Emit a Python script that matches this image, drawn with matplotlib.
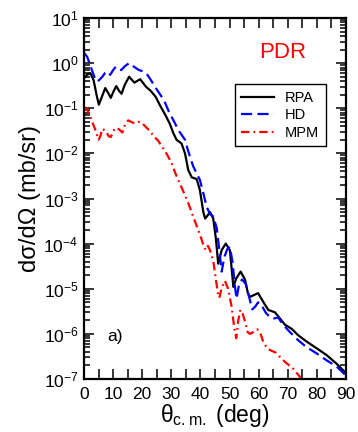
import numpy as np
import matplotlib
matplotlib.use("Agg")
import matplotlib.pyplot as plt
from matplotlib.ticker import FixedLocator, LogLocator, NullFormatter, MultipleLocator

plt.rcParams['font.family'] = ['Liberation Sans', 'DejaVu Sans']
plt.rcParams['mathtext.fontset'] = 'custom'
plt.rcParams['mathtext.rm'] = 'Liberation Sans'
plt.rcParams['mathtext.it'] = 'Liberation Sans:italic'
plt.rcParams['mathtext.bf'] = 'Liberation Sans:bold'

# ---- data ----
theta_rpa = [0, 1, 2.2, 3.3, 4.3, 5.1, 6.0, 7.3, 8.3, 9.2, 10.2, 11.1, 12.1, 12.9, 14.0, 15.5,
             17.3, 19.3, 21.3, 23.0, 24.6, 26.3, 28.0, 29.5, 30.7, 31.8, 33.5, 34.7, 35.8, 37.0,
             38.7, 39.8, 41.0, 41.6, 42.2, 43.3, 44.4, 45.3, 46.1, 47.3, 48.7, 50.1, 50.8, 51.3,
             52.3, 53.8, 55.3, 56.3, 57.0, 58.3, 59.8, 61.6, 63.3, 65.6, 67.3, 69.0, 71.3, 73.6,
             76.4, 79.9, 83.3, 86.7, 90.0]
rpa = [4.6e-1, 5.5e-1, 6.0e-1, 4.2e-1, 2.0e-1, 1.2e-1, 1.7e-1, 2.8e-1, 2.2e-1, 1.7e-1, 2.4e-1, 3.1e-1, 2.4e-1, 2.1e-1, 3.3e-1, 5.0e-1,
       3.7e-1, 4.4e-1, 3.0e-1, 2.4e-1, 1.8e-1, 1.1e-1, 7.0e-2, 4.5e-2, 2.8e-2, 2.0e-2, 1.66e-2, 1.0e-2, 4.3e-3, 2.95e-3,
       2.7e-3, 1.55e-3, 5.0e-4, 3.6e-4, 4.0e-4, 5.0e-4, 3.6e-4, 1.3e-4, 3.6e-5, 7.2e-5, 1.0e-4, 7.2e-5, 2.5e-5, 1.1e-5,
       1.7e-5, 2.4e-5, 1.6e-5, 8.0e-6, 6.6e-6, 7.2e-6, 8.0e-6, 5.1e-6, 3.4e-6, 3.0e-6, 2.2e-6, 1.6e-6, 1.3e-6, 9.3e-7,
       6.8e-7, 4.8e-7, 3.4e-7, 2.2e-7, 1.35e-7]

theta_hd = [0, 1.1, 2.0, 2.9, 3.8, 4.6, 5.5, 6.3, 7.2, 8.0, 9.0, 10.0, 10.9, 12.0, 12.8, 14.0, 15.5,
            17.2, 18.9, 20.6, 21.8, 22.9, 25.2, 27.5, 29.2, 31.0, 32.4, 33.5, 34.7, 35.5, 36.4, 37.5,
            38.7, 39.8, 41.0, 42.1, 43.3, 44.4, 45.6, 46.5, 47.3, 48.2, 49.2, 50.1, 51.0, 51.8, 52.4,
            53.3, 54.3, 55.5, 56.5, 57.8, 58.8, 59.8, 61.0, 62.5, 64.0, 65.3, 66.7, 68.4, 70.7, 73.6,
            76.4, 79.9, 83.3, 86.7, 90.0]
hd = [1.7, 1.38, 0.95, 0.65, 0.45, 0.39, 0.44, 0.5, 0.6, 0.65, 0.55, 0.7, 0.83, 0.75, 0.7, 0.85, 1.0,
      0.83, 0.7, 0.65, 0.55, 0.43, 0.25, 0.15, 8.3e-2, 5.0e-2, 3.3e-2, 2.6e-2, 2.0e-2, 1.3e-2, 8.5e-3, 5.2e-3,
      3.6e-3, 2.6e-3, 1.3e-3, 6.6e-4, 4.5e-4, 4.0e-4, 2.2e-4, 7.0e-5, 2.4e-5, 5.0e-5, 7.5e-5, 8.5e-5, 4.0e-5, 1.2e-5, 6.0e-6,
      1.3e-5, 1.6e-5, 1.3e-5, 7.5e-6, 3.5e-6, 4.0e-6, 5.0e-6, 4.3e-6, 2.9e-6, 2.3e-6, 2.2e-6, 2.3e-6, 1.6e-6, 1.1e-6, 7.2e-7,
      5.1e-7, 3.7e-7, 2.6e-7, 1.9e-7, 1.2e-7]

theta_mpm = [0, 1, 2, 3, 4, 5, 5.6, 6.3, 7.3, 8.5, 9.2, 10.3, 11.4, 12.5, 13.2, 14.2, 15.2, 16.2,
             17.5, 18.8, 19.8, 21, 22.5, 24, 25.5, 27, 28.5, 30, 31.5, 33, 34.5, 36, 37.5, 39, 40.3,
             41.2, 41.9, 42.6, 43.3, 44.4, 45.2, 46.1, 46.5, 47.3, 48.4, 49.5, 50.7, 51.6, 52.3, 53,
             53.7, 54.5, 55.4, 56.2, 57, 58.2, 59.5, 60.5, 61.6, 63, 64.5, 66, 67.5, 69, 70.5, 72,
             73.5, 75]
mpm = [1.07e-1, 9.5e-2, 7.0e-2, 4.7e-2, 3.2e-2, 2.0e-2, 2.4e-2, 3.5e-2, 3.2e-2, 2.4e-2, 2.3e-2, 3.3e-2, 3.7e-2, 3.2e-2, 2.9e-2, 4.5e-2, 5.4e-2, 5.0e-2,
       4.6e-2, 5.0e-2, 4.8e-2, 4.0e-2, 3.2e-2, 2.4e-2, 1.9e-2, 1.35e-2, 9.5e-3, 6.3e-3, 3.5e-3, 2.1e-3, 1.26e-3, 7.4e-4, 4.0e-4, 2.2e-4, 1.3e-4,
       8.3e-5, 7.2e-5, 8.9e-5, 7.1e-5, 4.2e-5, 1.8e-5, 7.1e-6, 6.3e-6, 1.05e-5, 1.5e-5, 1.0e-5, 4.0e-6, 1.4e-6, 8.0e-7, 2.0e-6,
       3.4e-6, 2.8e-6, 1.8e-6, 1.1e-6, 1.0e-6, 1.1e-6, 1.26e-6, 1.07e-6, 6.6e-7, 4.7e-7, 4.2e-7, 3.8e-7, 3.0e-7, 2.4e-7, 2.0e-7, 1.66e-7,
       1.26e-7, 9.5e-8]

series_labels = ["RPA", "HD", "MPM"]
y_exponents = [-7, -6, -5, -4, -3, -2, -1, 0, 1]
x_ticklabels = [0, 10, 20, 30, 40, 50, 60, 70, 80, 90]

# ---- figure ----
fig = plt.figure(figsize=(3.58, 4.32), dpi=100)
ax = fig.add_axes([0.2346, 0.1227, 0.7319, 0.8356])

ax.plot(theta_rpa, rpa, color='black', lw=1.6, label=series_labels[0])
ax.plot(theta_hd, hd, color='#0000ff', lw=1.6, dashes=(5.0, 2.4), label=series_labels[1])
ax.plot(theta_mpm, mpm, color='#ff0000', lw=1.6, dashes=(3.8, 1.8, 0.8, 1.8), label=series_labels[2])

ax.set_yscale('log')
ax.set_xlim(0, 90)
ax.set_ylim(1e-7, 1e1)

ax.set_yticks([10.0 ** e for e in y_exponents])
ax.set_yticklabels([r"$10^{%d}$" % e for e in y_exponents])
ax.yaxis.set_minor_locator(LogLocator(base=10, subs=np.arange(2, 10), numticks=20))
ax.yaxis.set_minor_formatter(NullFormatter())

ax.set_xticks(x_ticklabels)
ax.set_xticklabels([str(v) for v in x_ticklabels])
ax.xaxis.set_minor_locator(MultipleLocator(5))

ax.tick_params(which='both', direction='in', top=True, right=True, width=1.1, labelsize=12.5)
ax.tick_params(which='major', length=7, pad=4)
ax.tick_params(which='minor', length=4)
ax.tick_params(axis='x', which='minor', length=7)
ax.tick_params(axis='x', which='major', pad=6)
for s in ax.spines.values():
    s.set_linewidth(1.6)

ax.set_xlabel(r"$\mathrm{\theta}_{\mathrm{c.m.}}$ (deg)", fontsize=16.5, labelpad=0)
ax.set_ylabel("dσ/dΩ (mb/sr)", fontsize=17, labelpad=2)

ax.text(0.76, 0.905, "PDR", transform=ax.transAxes, color='#ff0000', fontsize=16,
        ha='center', va='center')
ax.text(0.088, 0.118, "a)", transform=ax.transAxes, color='black', fontsize=12.5,
        ha='left', va='center')

leg = ax.legend(loc='upper left', bbox_to_anchor=(0.576, 0.817), borderaxespad=0,
                fontsize=10.5, handlelength=2.2, handletextpad=0.8, labelspacing=0.25,
                borderpad=0.45, fancybox=False, framealpha=1, edgecolor='black')
leg.get_frame().set_linewidth(1.0)

fig.savefig("out.png", dpi=100)
